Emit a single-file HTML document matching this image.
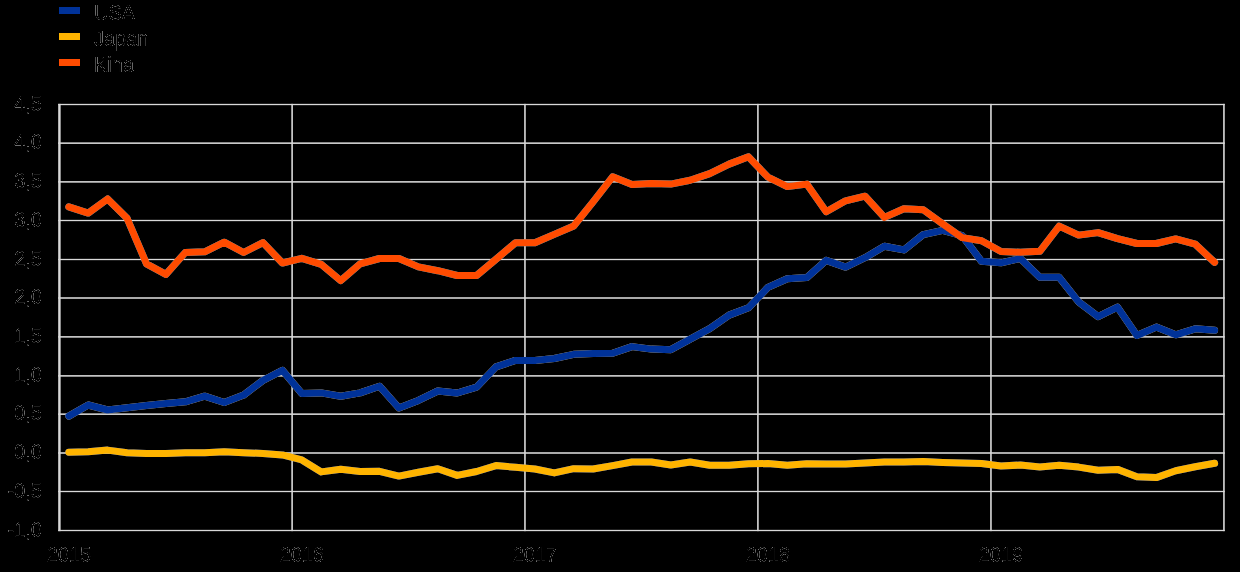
<!DOCTYPE html>
<html><head><meta charset="utf-8"><title>chart</title>
<style>
html,body{margin:0;padding:0;background:#000;}
body{width:1240px;height:572px;overflow:hidden;position:relative;}
.layer{position:absolute;left:0;top:0;width:1240px;height:572px;overflow:hidden;}
#a{background:#fff;color:#000;}
#b{background:#000;color:#fff;mix-blend-mode:multiply;}
#a .tx{filter:url(#fa);}
#b .tx{filter:url(#fb);color:#707070;}
svg{display:block;position:absolute;left:0;top:0;}
.tx{position:absolute;left:0;top:0;width:1240px;height:572px;}
.t{position:absolute;font-family:"Liberation Sans",sans-serif;font-size:20px;line-height:20px;height:20px;white-space:nowrap;transform:scaleY(1.07);transform-origin:0 17px;}
.r{text-align:right;}
.c{text-align:center;}
</style></head><body>
<svg width="0" height="0" style="position:absolute"><defs>
<filter id="fa" x="0" y="0" width="100%" height="100%" color-interpolation-filters="sRGB"><feComponentTransfer><feFuncA type="table" tableValues="0 0 0 0 0 0 0.25 0.6 1 1 1"/></feComponentTransfer></filter>
<filter id="fb" x="0" y="0" width="100%" height="100%" color-interpolation-filters="sRGB"><feComponentTransfer><feFuncA type="table" tableValues="0 0 0 0.4 0.75 1 1 1 1 1 1"/></feComponentTransfer></filter>
</defs></svg>
<div class="layer" id="a">
<svg width="1240" height="572" viewBox="0 0 1240 572">
<rect x="58.2" y="103.870" width="1166.5" height="1.26" fill="#d9d9d9"/>
<rect x="58.2" y="142.410" width="1166.5" height="1.5" fill="#d9d9d9"/>
<rect x="58.2" y="181.120" width="1166.5" height="1.5" fill="#d9d9d9"/>
<rect x="58.2" y="219.870" width="1166.5" height="1.26" fill="#d9d9d9"/>
<rect x="58.2" y="258.870" width="1166.5" height="1.26" fill="#d9d9d9"/>
<rect x="58.2" y="297.250" width="1166.5" height="1.5" fill="#d9d9d9"/>
<rect x="58.2" y="336.120" width="1166.5" height="1.5" fill="#d9d9d9"/>
<rect x="58.2" y="375.120" width="1166.5" height="1.5" fill="#d9d9d9"/>
<rect x="58.2" y="413.410" width="1166.5" height="1.5" fill="#d9d9d9"/>
<rect x="58.2" y="452.250" width="1166.5" height="1.5" fill="#d9d9d9"/>
<rect x="58.2" y="490.870" width="1166.5" height="1.26" fill="#d9d9d9"/>
<rect x="58.2" y="529.870" width="1166.5" height="1.26" fill="#d9d9d9"/>
<rect x="58.220" y="103.87" width="2.38" height="427.26" fill="#d9d9d9"/>
<rect x="291.345" y="103.87" width="1.55" height="427.26" fill="#d9d9d9"/>
<rect x="524.175" y="103.87" width="1.55" height="427.26" fill="#d9d9d9"/>
<rect x="757.125" y="103.87" width="1.55" height="427.26" fill="#d9d9d9"/>
<rect x="990.175" y="103.87" width="1.55" height="427.26" fill="#d9d9d9"/>
<rect x="1223.155" y="103.87" width="1.55" height="427.26" fill="#d9d9d9"/>
<polyline fill="none" stroke="#003299" stroke-width="7" stroke-linejoin="round" stroke-linecap="round" points="68.8,416.1 88.2,405.0 107.6,410.0 127.1,407.7 146.5,405.6 165.9,403.5 185.3,401.8 204.7,396.2 224.2,402.5 243.6,395.1 263.0,380.4 282.4,370.3 301.8,393.5 321.3,392.9 340.7,396.3 360.1,392.9 379.5,386.2 398.9,408.0 418.4,400.4 437.8,391.0 457.2,393.0 476.6,387.2 496.0,366.9 515.5,360.4 534.9,360.4 554.3,358.5 573.7,354.3 593.1,353.5 612.6,353.3 632.0,346.6 651.4,349.1 670.8,349.7 690.2,339.2 709.7,328.7 729.1,315.1 748.5,307.8 767.9,287.4 787.3,278.7 806.8,277.6 826.2,260.4 845.6,267.1 865.0,257.7 884.4,246.2 903.9,249.9 923.3,234.6 942.7,230.4 962.1,235.7 981.5,261.3 1001.0,262.8 1020.4,258.5 1039.8,277.3 1059.2,277.3 1078.6,301.9 1098.1,316.6 1117.5,307.1 1136.9,335.5 1156.3,327.1 1175.7,334.8 1195.2,328.8 1214.6,330.2"/>
<polyline fill="none" stroke="#FFB400" stroke-width="7" stroke-linejoin="round" stroke-linecap="round" points="68.8,452.2 88.2,451.8 107.6,450.1 127.1,452.8 146.5,453.4 165.9,453.4 185.3,452.8 204.7,452.8 224.2,451.8 243.6,452.8 263.0,453.4 282.4,454.9 301.8,459.9 321.3,471.9 340.7,469.2 360.1,471.5 379.5,471.3 398.9,476.1 418.4,472.3 437.8,468.7 457.2,475.4 476.6,471.5 496.0,465.6 515.5,467.3 534.9,469.0 554.3,472.9 573.7,468.7 593.1,469.0 612.6,465.6 632.0,462.0 651.4,462.0 670.8,465.0 690.2,462.0 709.7,465.2 729.1,465.2 748.5,463.7 767.9,463.6 787.3,465.2 806.8,463.7 826.2,463.9 845.6,464.1 865.0,462.9 884.4,462.0 903.9,462.0 923.3,461.6 942.7,462.5 962.1,463.1 981.5,463.5 1001.0,466.0 1020.4,465.0 1039.8,466.9 1059.2,465.2 1078.6,467.1 1098.1,470.2 1117.5,469.4 1136.9,476.7 1156.3,477.6 1175.7,470.8 1195.2,466.7 1214.6,463.3"/>
<polyline fill="none" stroke="#FF4B00" stroke-width="7" stroke-linejoin="round" stroke-linecap="round" points="68.8,206.9 88.2,213.1 107.6,199.0 127.1,218.3 146.5,263.8 165.9,274.3 185.3,252.5 204.7,251.8 224.2,242.2 243.6,252.5 263.0,242.6 282.4,263.0 301.8,258.3 321.3,264.4 340.7,280.6 360.1,263.8 379.5,258.5 398.9,258.5 418.4,266.9 437.8,270.7 457.2,275.5 476.6,275.5 496.0,259.2 515.5,242.8 534.9,242.8 554.3,234.4 573.7,226.0 593.1,201.9 612.6,176.8 632.0,184.5 651.4,183.6 670.8,184.1 690.2,180.3 709.7,173.6 729.1,164.1 748.5,156.8 767.9,177.2 787.3,186.6 806.8,184.1 826.2,211.7 845.6,200.8 865.0,196.2 884.4,217.4 903.9,208.8 923.3,209.7 942.7,223.9 962.1,237.6 981.5,240.7 1001.0,251.5 1020.4,252.3 1039.8,251.3 1059.2,226.1 1078.6,235.1 1098.1,232.6 1117.5,238.7 1136.9,243.5 1156.3,243.5 1175.7,238.9 1195.2,244.1 1214.6,262.4"/>
<rect x="59" y="7" width="21" height="7" fill="#003299"/>
<rect x="59" y="33" width="21" height="7" fill="#FFB400"/>
<rect x="59" y="59" width="21" height="7" fill="#FF4B00"/>
</svg>
<div class="tx">
<div class="t" style="left:94px;top:2.50px">USA</div>
<div class="t" style="left:94px;top:28.50px">Japan</div>
<div class="t" style="left:94px;top:54.50px">Kina</div>
<div class="t r" style="left:0;width:42px;top:93.50px">4,5</div>
<div class="t r" style="left:0;width:42px;top:132.16px">4,0</div>
<div class="t r" style="left:0;width:42px;top:170.87px">3,5</div>
<div class="t r" style="left:0;width:42px;top:209.50px">3,0</div>
<div class="t r" style="left:0;width:42px;top:248.50px">2,5</div>
<div class="t r" style="left:0;width:42px;top:287.00px">2,0</div>
<div class="t r" style="left:0;width:42px;top:325.87px">1,5</div>
<div class="t r" style="left:0;width:42px;top:364.87px">1,0</div>
<div class="t r" style="left:0;width:42px;top:403.16px">0,5</div>
<div class="t r" style="left:0;width:42px;top:442.00px">0,0</div>
<div class="t r" style="left:0;width:42px;top:480.50px">-0,5</div>
<div class="t r" style="left:0;width:42px;top:519.50px">-1,0</div>
<div class="t c" style="left:28.9px;width:80px;top:545.00px">2015</div>
<div class="t c" style="left:261.9px;width:80px;top:545.00px">2016</div>
<div class="t c" style="left:494.9px;width:80px;top:545.00px">2017</div>
<div class="t c" style="left:727.9px;width:80px;top:545.00px">2018</div>
<div class="t c" style="left:960.9px;width:80px;top:545.00px">2019</div>
</div>
</div>
<div class="layer" id="b">
<svg width="1240" height="572" viewBox="0 0 1240 572">
<rect x="58.2" y="103.870" width="1166.5" height="1.26" fill="#fff"/>
<rect x="58.2" y="142.410" width="1166.5" height="1.5" fill="#fff"/>
<rect x="58.2" y="181.120" width="1166.5" height="1.5" fill="#fff"/>
<rect x="58.2" y="219.870" width="1166.5" height="1.26" fill="#fff"/>
<rect x="58.2" y="258.870" width="1166.5" height="1.26" fill="#fff"/>
<rect x="58.2" y="297.250" width="1166.5" height="1.5" fill="#fff"/>
<rect x="58.2" y="336.120" width="1166.5" height="1.5" fill="#fff"/>
<rect x="58.2" y="375.120" width="1166.5" height="1.5" fill="#fff"/>
<rect x="58.2" y="413.410" width="1166.5" height="1.5" fill="#fff"/>
<rect x="58.2" y="452.250" width="1166.5" height="1.5" fill="#fff"/>
<rect x="58.2" y="490.870" width="1166.5" height="1.26" fill="#fff"/>
<rect x="58.2" y="529.870" width="1166.5" height="1.26" fill="#fff"/>
<rect x="58.220" y="103.87" width="2.38" height="427.26" fill="#fff"/>
<rect x="291.345" y="103.87" width="1.55" height="427.26" fill="#fff"/>
<rect x="524.175" y="103.87" width="1.55" height="427.26" fill="#fff"/>
<rect x="757.125" y="103.87" width="1.55" height="427.26" fill="#fff"/>
<rect x="990.175" y="103.87" width="1.55" height="427.26" fill="#fff"/>
<rect x="1223.155" y="103.87" width="1.55" height="427.26" fill="#fff"/>
<polyline fill="none" stroke="#fff" stroke-width="7" stroke-linejoin="round" stroke-linecap="round" points="68.8,416.1 88.2,405.0 107.6,410.0 127.1,407.7 146.5,405.6 165.9,403.5 185.3,401.8 204.7,396.2 224.2,402.5 243.6,395.1 263.0,380.4 282.4,370.3 301.8,393.5 321.3,392.9 340.7,396.3 360.1,392.9 379.5,386.2 398.9,408.0 418.4,400.4 437.8,391.0 457.2,393.0 476.6,387.2 496.0,366.9 515.5,360.4 534.9,360.4 554.3,358.5 573.7,354.3 593.1,353.5 612.6,353.3 632.0,346.6 651.4,349.1 670.8,349.7 690.2,339.2 709.7,328.7 729.1,315.1 748.5,307.8 767.9,287.4 787.3,278.7 806.8,277.6 826.2,260.4 845.6,267.1 865.0,257.7 884.4,246.2 903.9,249.9 923.3,234.6 942.7,230.4 962.1,235.7 981.5,261.3 1001.0,262.8 1020.4,258.5 1039.8,277.3 1059.2,277.3 1078.6,301.9 1098.1,316.6 1117.5,307.1 1136.9,335.5 1156.3,327.1 1175.7,334.8 1195.2,328.8 1214.6,330.2"/>
<polyline fill="none" stroke="#fff" stroke-width="7" stroke-linejoin="round" stroke-linecap="round" points="68.8,452.2 88.2,451.8 107.6,450.1 127.1,452.8 146.5,453.4 165.9,453.4 185.3,452.8 204.7,452.8 224.2,451.8 243.6,452.8 263.0,453.4 282.4,454.9 301.8,459.9 321.3,471.9 340.7,469.2 360.1,471.5 379.5,471.3 398.9,476.1 418.4,472.3 437.8,468.7 457.2,475.4 476.6,471.5 496.0,465.6 515.5,467.3 534.9,469.0 554.3,472.9 573.7,468.7 593.1,469.0 612.6,465.6 632.0,462.0 651.4,462.0 670.8,465.0 690.2,462.0 709.7,465.2 729.1,465.2 748.5,463.7 767.9,463.6 787.3,465.2 806.8,463.7 826.2,463.9 845.6,464.1 865.0,462.9 884.4,462.0 903.9,462.0 923.3,461.6 942.7,462.5 962.1,463.1 981.5,463.5 1001.0,466.0 1020.4,465.0 1039.8,466.9 1059.2,465.2 1078.6,467.1 1098.1,470.2 1117.5,469.4 1136.9,476.7 1156.3,477.6 1175.7,470.8 1195.2,466.7 1214.6,463.3"/>
<polyline fill="none" stroke="#fff" stroke-width="7" stroke-linejoin="round" stroke-linecap="round" points="68.8,206.9 88.2,213.1 107.6,199.0 127.1,218.3 146.5,263.8 165.9,274.3 185.3,252.5 204.7,251.8 224.2,242.2 243.6,252.5 263.0,242.6 282.4,263.0 301.8,258.3 321.3,264.4 340.7,280.6 360.1,263.8 379.5,258.5 398.9,258.5 418.4,266.9 437.8,270.7 457.2,275.5 476.6,275.5 496.0,259.2 515.5,242.8 534.9,242.8 554.3,234.4 573.7,226.0 593.1,201.9 612.6,176.8 632.0,184.5 651.4,183.6 670.8,184.1 690.2,180.3 709.7,173.6 729.1,164.1 748.5,156.8 767.9,177.2 787.3,186.6 806.8,184.1 826.2,211.7 845.6,200.8 865.0,196.2 884.4,217.4 903.9,208.8 923.3,209.7 942.7,223.9 962.1,237.6 981.5,240.7 1001.0,251.5 1020.4,252.3 1039.8,251.3 1059.2,226.1 1078.6,235.1 1098.1,232.6 1117.5,238.7 1136.9,243.5 1156.3,243.5 1175.7,238.9 1195.2,244.1 1214.6,262.4"/>
<rect x="59" y="7" width="21" height="7" fill="#fff"/>
<rect x="59" y="33" width="21" height="7" fill="#fff"/>
<rect x="59" y="59" width="21" height="7" fill="#fff"/>
</svg>
<div class="tx">
<div class="t" style="left:94px;top:2.50px">USA</div>
<div class="t" style="left:94px;top:28.50px">Japan</div>
<div class="t" style="left:94px;top:54.50px">Kina</div>
<div class="t r" style="left:0;width:42px;top:93.50px">4,5</div>
<div class="t r" style="left:0;width:42px;top:132.16px">4,0</div>
<div class="t r" style="left:0;width:42px;top:170.87px">3,5</div>
<div class="t r" style="left:0;width:42px;top:209.50px">3,0</div>
<div class="t r" style="left:0;width:42px;top:248.50px">2,5</div>
<div class="t r" style="left:0;width:42px;top:287.00px">2,0</div>
<div class="t r" style="left:0;width:42px;top:325.87px">1,5</div>
<div class="t r" style="left:0;width:42px;top:364.87px">1,0</div>
<div class="t r" style="left:0;width:42px;top:403.16px">0,5</div>
<div class="t r" style="left:0;width:42px;top:442.00px">0,0</div>
<div class="t r" style="left:0;width:42px;top:480.50px">-0,5</div>
<div class="t r" style="left:0;width:42px;top:519.50px">-1,0</div>
<div class="t c" style="left:28.9px;width:80px;top:545.00px">2015</div>
<div class="t c" style="left:261.9px;width:80px;top:545.00px">2016</div>
<div class="t c" style="left:494.9px;width:80px;top:545.00px">2017</div>
<div class="t c" style="left:727.9px;width:80px;top:545.00px">2018</div>
<div class="t c" style="left:960.9px;width:80px;top:545.00px">2019</div>
</div>
</div>
</body></html>
